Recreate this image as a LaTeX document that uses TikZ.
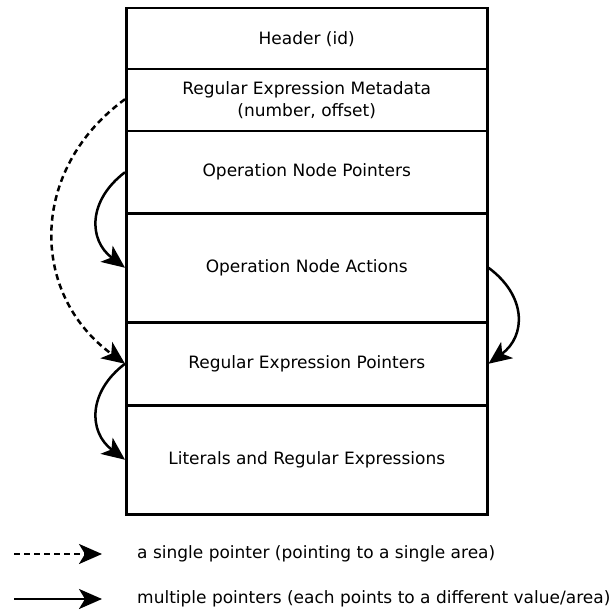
\documentclass[tikz,border=0pt]{standalone}
\usepackage{fontspec}
\setmainfont{DejaVu Sans}
\usetikzlibrary{arrows.meta}
\begin{document}
\begin{tikzpicture}[x=1pt,y=-1pt,
  row/.style={draw,line width=2.5pt,minimum width=361pt,inner sep=0pt,anchor=north west,align=center,font=\fontsize{17}{22}\selectfont},
  ptrarrow/.style={line width=2.5pt,-{Stealth[length=23pt,width=20pt,inset=6pt]}},
  lbl/.style={anchor=west,inner sep=0pt,font=\fontsize{17}{22}\selectfont}]
\useasboundingbox (0,0) rectangle (614,610);
\node[row,minimum height=61pt] (hdr) at (125,7) {Header (id)};
\node[row,minimum height=62pt] (meta) at (125,68) {Regular Expression Metadata\\(number, offset)};
\node[row,minimum height=82pt] (ptr) at (125,130) {Operation Node Pointers};
\node[row,minimum height=109pt] (act) at (125,212) {Operation Node Actions};
\node[row,minimum height=83pt] (rptr) at (125,321) {Regular Expression Pointers};
\node[row,minimum height=109pt] (lit) at (125,404) {Literals and Regular Expressions};
\draw[ptrarrow,dash pattern=on 6pt off 4pt] ([yshift=1pt]meta.west) .. controls +(-96,70) and +(-96,-70) .. (rptr.west);
\draw[ptrarrow] (ptr.west) .. controls +(-37,28) and +(-37,-28) .. (act.west);
\draw[ptrarrow] (act.east) .. controls +(38,28) and +(38,-28) .. (rptr.east);
\draw[ptrarrow] (rptr.west) .. controls +(-37,28) and +(-37,-28) .. (lit.west);
\coordinate (l1a) at (14,554);
\coordinate (l1b) at (102,554);
\coordinate (l2a) at (14,599);
\coordinate (l2b) at (102,599);
\draw[ptrarrow,dash pattern=on 6pt off 4pt] (l1a) -- (l1b);
\draw[ptrarrow] (l2a) -- (l2b);
\node[lbl] (t1) at (137,554) {a single pointer (pointing to a single area)};
\node[lbl] (t2) at (137,599) {multiple pointers (each points to a different value/area)};
\end{tikzpicture}
\end{document}
